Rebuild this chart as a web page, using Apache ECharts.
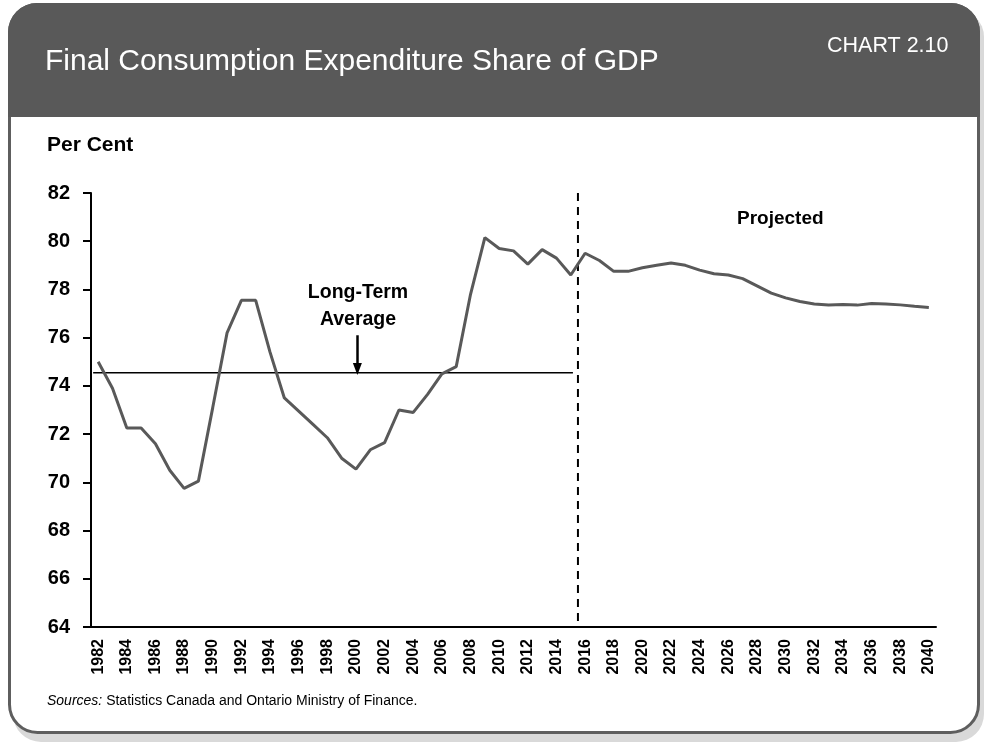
<!DOCTYPE html>
<html>
<head>
<meta charset="utf-8">
<style>
  html, body { margin: 0; padding: 0; background: #ffffff; }
  #main { width: 984px; height: 742px; }
</style>
<script src="https://cdn.jsdelivr.net/npm/echarts@6/dist/echarts.min.js"></script>
</head>
<body>
<div id="main"></div>
<script>
// years on the category axis
const years = [];
for (let y = 1982; y <= 2040; y++) years.push(String(y));

// final consumption expenditure, per cent of GDP (1982-2040)
const shareValues = [
  75.0, 73.9, 72.25, 72.25, 71.6, 70.5, 69.75, 70.05, 73.1, 76.2,
  77.55, 77.55, 75.4, 73.5, 72.95, 72.4, 71.85, 71.0, 70.55, 71.35,
  71.65, 73.0, 72.9, 73.65, 74.5, 74.8, 77.8, 80.15, 79.7, 79.6,
  79.05, 79.65, 79.3, 78.6, 79.5, 79.2, 78.75, 78.75, 78.9, 79.0,
  79.1, 79.0, 78.8, 78.65, 78.6, 78.45, 78.15, 77.85, 77.65, 77.5,
  77.4, 77.35, 77.38, 77.35, 77.42, 77.4, 77.36, 77.3, 77.25
];

// long-term average line (year span and level)
const avgLine = [[1981.65, 74.55], [2015.15, 74.55]];
// arrow pointing at the average
const avgArrow = [[2000.1, 76.1], [2000.1, 74.7]];
// projection divider
const projDivider = [[2015.5, 82], [2015.5, 64]];

const yTicks = { min: 64, max: 82, interval: 2 };

const FONT = "'Liberation Sans', Arial, sans-serif";

const chart = echarts.init(document.getElementById('main'));

const option = {
  animation: false,
  graphic: [
    // shadow
    { type: 'rect', z: -10, silent: true,
      shape: { x: 13, y: 9, width: 971, height: 733, r: 28 },
      style: { fill: '#d9d9d9' } },
    // card
    { type: 'rect', z: -9, silent: true,
      shape: { x: 9.5, y: 4.5, width: 969, height: 728, r: 28 },
      style: { fill: '#ffffff', stroke: '#5e5e5e', lineWidth: 3 } },
    // header band
    { type: 'rect', z: -8, silent: true,
      shape: { x: 8, y: 3, width: 972, height: 114, r: [29, 29, 0, 0] },
      style: { fill: '#595959' } },
    { type: 'text', z: 10, left: 45, top: 47,
      style: { text: 'Final Consumption Expenditure Share of GDP', fill: '#ffffff',
        font: "normal 30px " + FONT } },
    { type: 'text', z: 10, left: 827, top: 35,
      style: { text: 'CHART 2.10', fill: '#ffffff', font: "normal 21.5px " + FONT } },
    { type: 'text', z: 10, left: 47, top: 135,
      style: { text: 'Per Cent', fill: '#000000', font: "bold 21px " + FONT } },
    { type: 'text', z: 10, x: 358, y: 279,
      style: { text: 'Long-Term\nAverage', fill: '#000000', align: 'center',
        verticalAlign: 'top', lineHeight: 27, font: "bold 19.5px " + FONT } },
    { type: 'text', z: 10, left: 737, top: 209,
      style: { text: 'Projected', fill: '#000000', font: "bold 19px " + FONT } },
    { type: 'text', z: 10, left: 47, top: 694,
      style: {
        text: '{i|Sources:} Statistics Canada and Ontario Ministry of Finance.',
        fill: '#000000', font: "normal 14px " + FONT,
        rich: { i: { fontStyle: 'italic', fontSize: 14, fontFamily: FONT } }
      } }
  ],
  grid: { left: 91, right: 48, top: 193, bottom: 115 },
  xAxis: [
    {
      type: 'category',
      data: years,
      boundaryGap: true,
      axisLine: { lineStyle: { color: '#000000', width: 2 } },
      axisTick: { interval: 0, length: 6, lineStyle: { color: '#000000', width: 2 } },
      axisLabel: {
        interval: 1, rotate: 90, margin: 12, color: '#000000',
        fontFamily: FONT, fontWeight: 'bold', fontSize: 16
      }
    },
    { type: 'value', min: 1981.5, max: 2040.5, show: false }
  ],
  yAxis: {
    type: 'value',
    min: yTicks.min, max: yTicks.max, interval: yTicks.interval,
    splitLine: { show: false },
    axisLine: { show: true, lineStyle: { color: '#000000', width: 2 } },
    axisTick: { show: true, length: 8, lineStyle: { color: '#000000', width: 2 } },
    axisLabel: {
      margin: 21, color: '#000000', fontFamily: FONT, fontWeight: 'bold', fontSize: 20
    }
  },
  series: [
    {
      name: 'Long-Term Average',
      type: 'line',
      xAxisIndex: 1,
      data: avgLine,
      symbol: 'none',
      silent: true,
      lineStyle: { color: '#000000', width: 1.5 },
      markLine: {
        silent: true,
        symbol: ['none', 'triangle'],
        symbolSize: [9, 12],
        label: { show: false },
        lineStyle: { color: '#000000', width: 2.5, type: 'solid' },
        data: [[{ coord: avgArrow[0] }, { coord: avgArrow[1], symbolRotate: 180 }]]
      }
    },
    {
      name: 'Divider',
      type: 'line',
      xAxisIndex: 1,
      data: projDivider,
      symbol: 'none',
      silent: true,
      lineStyle: { color: '#000000', width: 2, type: [8, 6] }
    },
    {
      name: 'Share of GDP',
      type: 'line',
      data: shareValues,
      symbol: 'none',
      silent: true,
      z: 5,
      lineStyle: { color: '#595959', width: 3 }
    }
  ]
};

chart.setOption(option);
</script>
</body>
</html>
